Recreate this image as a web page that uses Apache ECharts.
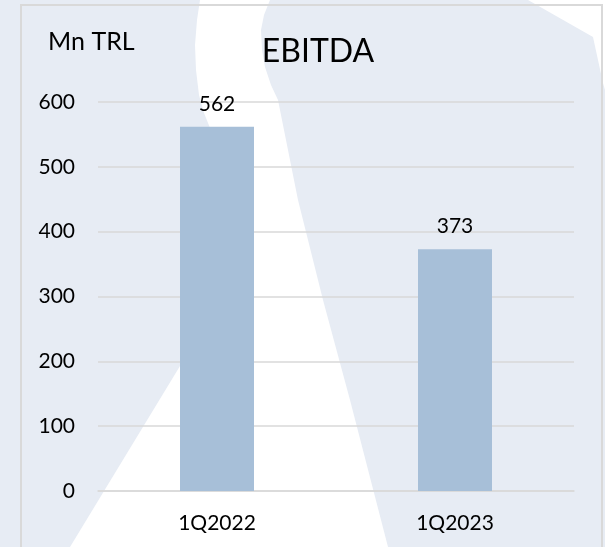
<!DOCTYPE html>
<html>
<head>
<meta charset="utf-8">
<script src="https://cdn.jsdelivr.net/npm/echarts@6/dist/echarts.min.js"></script>
<style>
  html, body { margin: 0; padding: 0; }
  #chart { width: 605px; height: 547px; }
</style>
</head>
<body>
<div id="chart"></div>
<script>
// EBITDA, Mn TRL
var categories = ['1Q2022', '1Q2023'];
var ebitda = [562, 373];
var yTicks = [0, 100, 200, 300, 400, 500, 600];

var FONT = 'Lato';
var chart = echarts.init(document.getElementById('chart'));

chart.setOption({
  backgroundColor: '#e7ecf4',
  animation: false,
  textStyle: { fontFamily: FONT },
  graphic: [
    // white band (decoration behind the chart)
    {
      type: 'polygon', z: -10, silent: true,
      shape: {
        points: [[200, 0], [197, 20], [195, 45], [196, 70], [199, 95], [204, 113], [210, 128], [214, 180],
                 [205, 270], [180, 366], [70, 547],
                 [388, 547], [350, 400], [323, 300], [298, 200], [278, 100], [271, 85], [265, 67],
                 [262, 50], [261, 30], [264, 15], [270, 0]]
      },
      style: { fill: '#ffffff' }
    },
    {
      type: 'polygon', z: -10, silent: true,
      shape: { points: [[528, 0], [605, 0], [605, 90], [603, 83], [593, 37]] },
      style: { fill: '#ffffff' }
    },
    // frame
    {
      type: 'rect', z: -5, silent: true,
      shape: { x: 21, y: 5, width: 581, height: 560 },
      style: { fill: null, stroke: '#d9d9d9', lineWidth: 2 }
    },
    {
      type: 'text', left: 48, top: 29,
      style: { text: 'Mn TRL', font: '25px ' + FONT, fill: '#000' }
    }
  ],
  title: {
    text: 'EBITDA',
    left: 313,
    top: 31,
    textAlign: 'center',
    textStyle: { fontFamily: FONT, fontSize: 32, fontWeight: 'normal', color: '#000' }
  },
  grid: { left: 98, right: 31, top: 102, bottom: 56 },
  xAxis: {
    type: 'category',
    data: categories,
    axisLine: { show: true, lineStyle: { color: '#d9d9d9', width: 1.5 } },
    axisTick: { show: false },
    axisLabel: { color: '#000', fontSize: 21, fontFamily: FONT, margin: 22 }
  },
  yAxis: {
    type: 'value',
    min: yTicks[0],
    max: yTicks[yTicks.length - 1],
    interval: 100,
    axisLine: { show: false },
    axisTick: { show: false },
    axisLabel: { color: '#000', fontSize: 21, fontFamily: FONT, margin: 23 },
    splitLine: { lineStyle: { color: '#d9d9d9', width: 1.5 } }
  },
  series: [{
    type: 'bar',
    data: ebitda,
    barWidth: 74,
    itemStyle: { color: '#a7bfd8' },
    label: {
      show: true,
      position: 'top',
      distance: 12,
      color: '#000',
      fontSize: 21,
      fontFamily: FONT
    }
  }]
});
</script>
</body>
</html>
